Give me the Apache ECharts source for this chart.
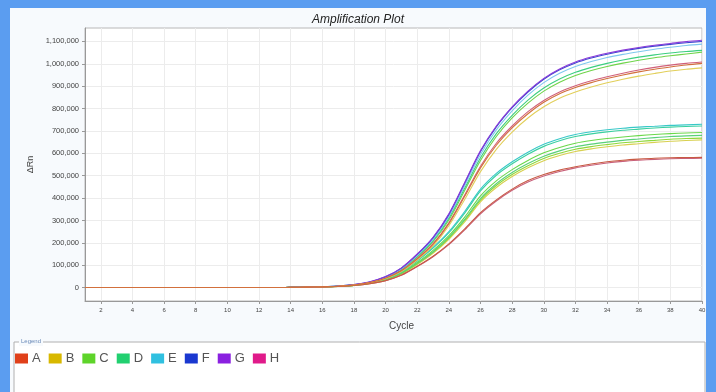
<!DOCTYPE html>
<html><head><meta charset="utf-8">
<script src="https://cdn.jsdelivr.net/npm/echarts@6/dist/echarts.min.js"></script>
<style>
html,body{margin:0;padding:0;background:#5b9df0;}
#panel{position:absolute;left:10px;top:8px;width:696px;height:384px;background:#f7fafd;}
#c{position:absolute;left:0;top:0;width:716px;height:392px;}
</style></head>
<body><div id="panel"></div><div id="c"></div>
<script>
const cycles = [1,2,3,4,5,6,7,8,9,10,11,12,13,14,15,16,17,18,19,20,21,22,23,24,25,26,27,28,29,30,31,32,33,34,35,36,37,38,39,40];
const xTickLabels = ['2','4','6','8','10','12','14','16','18','20','22','24','26','28','30','32','34','36','38','40'];
const yTickValues = [0,100000,200000,300000,400000,500000,600000,700000,800000,900000,1000000,1100000];
const legendNames = ['A','B','C','D','E','F','G','H'];
const legendColors = ['#e0401a','#d8b800','#5ed42a','#22d070','#30c0e0','#1a38d0','#8a20e0','#e01a8a'];

// upper plateau curves
const G_up = [0,0,0,0,0,0,0,0,0,0,0,0,0,1000,2000,4000,7000,13000,26000,49000,88000,150000,225000,330000,470000,612000,722000,808000,878000,935000,977000,1008000,1030000,1047000,1061000,1073000,1083000,1091000,1099000,1105000];
const F_up = [0,0,0,0,0,0,0,0,0,0,0,0,0,1000,2000,4000,7000,13000,25000,48000,87000,148000,222000,326000,466000,608000,718000,804000,874000,931000,973000,1004000,1026000,1043000,1057000,1069000,1079000,1087000,1094000,1100000];
const E_up = [0,0,0,0,0,0,0,0,0,0,0,0,0,1000,2000,4000,7000,12000,24000,46000,84000,143000,215000,318000,455000,595000,705000,790000,860000,916000,958000,988000,1010000,1028000,1042000,1054000,1065000,1074000,1082000,1088000];
const D_up = [0,0,0,0,0,0,0,0,0,0,0,0,0,1000,2000,4000,7000,12000,24000,45000,82000,140000,210000,310000,444000,580000,688000,770000,838000,892000,932000,962000,984000,1002000,1017000,1030000,1040000,1048000,1055000,1060000];
const C_up = [0,0,0,0,0,0,0,0,0,0,0,0,0,1000,2000,4000,6000,12000,23000,44000,80000,136000,205000,302000,434000,568000,675000,758000,824000,878000,918000,948000,970000,988000,1003000,1016000,1027000,1036000,1044000,1052000];
const H_up = [0,0,0,0,0,0,0,0,0,0,0,0,0,1000,2000,3000,6000,11000,22000,42000,76000,130000,196000,290000,414000,542000,645000,722000,786000,836000,874000,902000,924000,942000,958000,972000,984000,994000,1002000,1008000];
const A_up = [0,0,0,0,0,0,0,0,0,0,0,0,0,1000,2000,3000,6000,11000,22000,42000,75000,128000,193000,286000,408000,535000,636000,714000,777000,828000,866000,894000,916000,934000,950000,964000,976000,986000,995000,1002000];
const B_up = [0,0,0,0,0,0,0,0,0,0,0,0,0,1000,2000,3000,6000,11000,21000,40000,72000,123000,186000,276000,394000,518000,618000,695000,758000,808000,846000,874000,896000,915000,931000,945000,957000,968000,976000,982000];
// lower plateau curves
const E_lo = [0,0,0,0,0,0,0,0,0,0,0,0,0,1000,2000,3000,6000,11000,21000,40000,72000,122000,180000,250000,340000,440000,510000,562000,605000,640000,665000,684000,696000,705000,712000,717000,721000,725000,727000,730000];
const D_lo = [0,0,0,0,0,0,0,0,0,0,0,0,0,1000,2000,3000,6000,11000,21000,39000,70000,119000,176000,245000,333000,432000,502000,553000,596000,631000,656000,675000,687000,696000,703000,708000,713000,717000,720000,722000];
const C_lo = [0,0,0,0,0,0,0,0,0,0,0,0,0,1000,2000,3000,6000,10000,20000,37000,66000,112000,166000,232000,315000,410000,477000,527000,568000,602000,626000,645000,657000,666000,673000,679000,684000,688000,691000,693000];
const D_lo2 = [0,0,0,0,0,0,0,0,0,0,0,0,0,1000,2000,3000,6000,10000,19000,36000,64000,108000,160000,225000,305000,398000,464000,514000,554000,587000,611000,629000,641000,650000,658000,664000,670000,675000,678000,680000];
const C_lo2 = [0,0,0,0,0,0,0,0,0,0,0,0,0,1000,2000,3000,5000,10000,19000,35000,63000,106000,157000,221000,300000,391000,456000,505000,544000,577000,600000,618000,630000,639000,647000,653000,658000,663000,666000,668000];
const B_lo = [0,0,0,0,0,0,0,0,0,0,0,0,0,1000,2000,3000,5000,10000,18000,34000,61000,103000,153000,216000,293000,383000,447000,496000,535000,567000,590000,608000,620000,629000,637000,643000,649000,654000,657000,660000];
const A_lo = [0,0,0,0,0,0,0,0,0,0,0,0,0,1000,2000,3000,5000,9000,17000,31000,56000,95000,140000,195000,262000,335000,392000,440000,478000,505000,525000,540000,552000,562000,569000,574000,578000,580000,581000,582000];
const H_lo = [0,0,0,0,0,0,0,0,0,0,0,0,0,1000,2000,3000,5000,9000,17000,31000,55000,94000,138000,192000,258000,330000,387000,435000,472000,499000,519000,535000,547000,557000,564000,569000,573000,576000,577000,578000];

const curves = [
  ['H', '#c8607a', H_lo], ['B', '#d8d050', B_lo], ['C', '#8ed83a', C_lo2],
  ['D', '#5ad07a', D_lo2], ['C', '#6ad84a', C_lo], ['D', '#3ad0a0', D_lo], ['E', '#38c8c8', E_lo],
  ['C', '#6fd44a', C_up], ['D', '#3ccf80', D_up], ['E', '#7fc8ee', E_up], ['F', '#3a48d0', F_up], ['G', '#8a3ad8', G_up],
  ['H', '#d0607a', H_up], ['B', '#e2cf5a', B_up], ['A', '#c85a44', A_lo], ['A', '#d2703c', A_up]
];

const chart = echarts.init(document.getElementById('c'), null, {renderer:'canvas'});
const fmt = v => String(v).replace(/\B(?=(\d{3})+(?!\d))/g, ',');
const series = curves.map(([n, col, data]) => ({
  name: n, type: 'line', data: data, smooth: 0.3, showSymbol: false, symbol: 'none',
  lineStyle: {color: col, width: 1.1}, itemStyle: {color: col}, z: 3, animation: false
}));
// legend colour holders
legendNames.forEach((n, i) => { series.push({name: n, type: 'line', data: [], itemStyle: {color: legendColors[i]}, lineStyle:{color: legendColors[i]}}); });

chart.setOption({
  backgroundColor: 'transparent',
  animation: false,
  title: {text: 'Amplification Plot', left: 'center', top: 9,
    textStyle: {fontFamily: 'Liberation Sans', fontStyle: 'italic', fontWeight: 'normal', fontSize: 12, color: '#222'}},
  grid: {left: 85, right: 14, top: 28, bottom: 91, show: true, backgroundColor: '#ffffff', borderColor: '#b8b8b8', borderWidth: 1},
  legend: {
    data: legendNames.map((n, i) => ({name: n, itemStyle: {color: legendColors[i]}})),
    left: 15, top: 352, padding: 0, icon: 'rect', itemWidth: 13, itemHeight: 10, itemGap: 8,
    textStyle: {fontFamily: 'Liberation Sans', fontSize: 13, color: '#555', padding: [0,0,0,-1]},
    selectedMode: false
  },
  xAxis: {
    type: 'category', data: cycles, boundaryGap: false,
    name: 'Cycle', nameLocation: 'middle', nameGap: 20,
    nameTextStyle: {fontFamily: 'Liberation Sans', fontSize: 10, color: '#444', padding: [0,0,0,16]},
    axisLine: {onZero: false, lineStyle: {color: '#999'}},
    axisTick: {show: true, length: 3, interval: (i, v) => xTickLabels.includes(String(v)), lineStyle: {color: '#999'}},
    axisLabel: {interval: (i, v) => xTickLabels.includes(String(v)), fontFamily: 'Liberation Sans', fontSize: 6, color: '#444', margin: 6},
    splitLine: {show: true, interval: (i, v) => xTickLabels.includes(String(v)), lineStyle: {color: '#ececec', width: 1}}
  },
  yAxis: {
    type: 'value', min: -60000, max: 1160000,
    name: 'ΔRn', nameLocation: 'middle', nameGap: 48, nameRotate: 90,
    nameTextStyle: {fontFamily: 'Liberation Sans', fontSize: 9, color: '#444'},
    axisLine: {show: true, lineStyle: {color: '#999'}},
    axisTick: {show: true, length: 3, customValues: yTickValues, lineStyle: {color: '#999'}},
    axisLabel: {customValues: yTickValues, fontFamily: 'Liberation Sans', fontSize: 7.5, color: '#444', margin: 6,
      formatter: v => fmt(v)},
    splitLine: {show: true, lineStyle: {color: '#ececec', width: 1}}
  },
  graphic: [
    {type: 'rect', shape: {x: 14, y: 342, width: 691, height: 60}, style: {fill: '#ffffff', stroke: '#b0b0b0', lineWidth: 1}, z: -1, silent: true},
    {type: 'rect', shape: {x: 19, y: 338, width: 24, height: 8}, style: {fill: '#f7fafd'}, z: 0, silent: true},
    {type: 'text', x: 21, y: 338, style: {text: 'Legend', fontSize: 6, fontFamily: 'Liberation Sans', fill: '#6a8ab8'}, z: 1, silent: true}
  ],
  series: series
});
</script></body></html>
